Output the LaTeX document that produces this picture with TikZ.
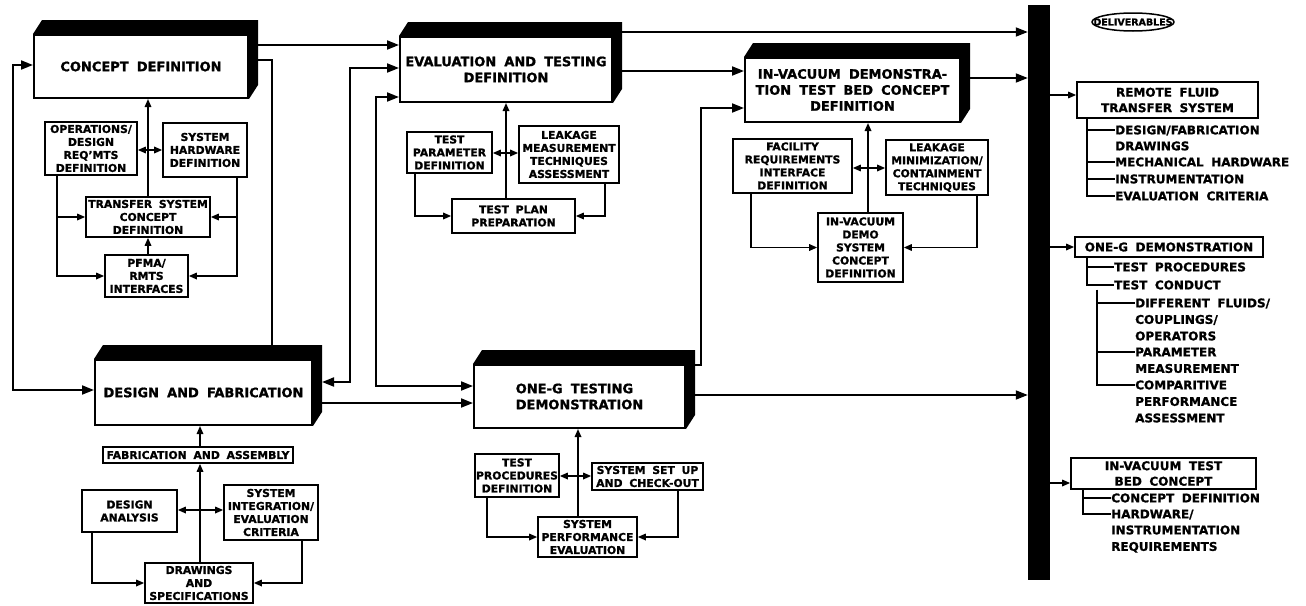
\documentclass[tikz,border=0pt]{standalone}
\usepackage{fontspec}
\setmainfont{DejaVu Sans}[WordSpace=1.8, BoldFeatures={FakeBold=1.2}]
\usetikzlibrary{arrows.meta, calc}

% dark top and right faces of a main block
\newcommand{\extrude}[1]{%
  \fill (#1.north west) -- ++(9,-14) -- ([shift={(9,-14)}]#1.north east)
    -- ([shift={(9,-14)}]#1.south east) -- (#1.south east) -- (#1.north east) -- cycle;}

\begin{document}
\begin{tikzpicture}[x=1pt, y=-1pt,
  block/.style={draw, line width=2pt, fill=white, align=center, inner sep=2pt,
                font=\fontsize{13}{16}\selectfont\bfseries},
  sub/.style={draw, line width=1.6pt, align=center, inner sep=1pt,
              font=\fontsize{10.8}{13}\selectfont\bfseries},
  outbox/.style={draw, line width=1.7pt, align=center, inner sep=1pt,
                 font=\fontsize{12}{15.5}\selectfont\bfseries},
  listitem/.style={anchor=west, inner sep=0pt, text height=8.7pt, text depth=0pt,
                   font=\fontsize{12}{14}\selectfont\bfseries},
  wire/.style={line width=1.7pt},
  arr/.style={-{Stealth[length=12pt,width=9pt,inset=0pt]}, line width=1.8pt},
  darr/.style={{Stealth[length=12pt,width=9pt,inset=0pt]}-{Stealth[length=12pt,width=9pt,inset=0pt]}, line width=1.8pt},
  sarr/.style={-{Stealth[length=8pt,width=6.5pt,inset=0pt]}, line width=1.6pt},
  sdarr/.style={{Stealth[length=8pt,width=6.5pt,inset=0pt]}-{Stealth[length=8pt,width=6.5pt,inset=0pt]}, line width=1.6pt}
]
\useasboundingbox (0,0) rectangle (1306,605);

% Main blocks
\node[block, minimum width=214, minimum height=63] (concept) at (141,66.5) {CONCEPT DEFINITION};
\node[block, minimum width=212, minimum height=65] (evaluation) at (506,69.5) {EVALUATION AND TESTING\\DEFINITION};
\node[block, minimum width=215, minimum height=64] (invac) at (852.5,90) {IN-VACUUM DEMONSTRA-\\TION TEST BED CONCEPT\\DEFINITION};
\node[block, minimum width=217, minimum height=65] (design) at (203.5,392.5) {DESIGN AND FABRICATION};
\node[block, minimum width=211, minimum height=63, align=left] (oneg) at (579.5,396.5) {ONE-G TESTING\\DEMONSTRATION};
\foreach \b in {concept, evaluation, invac, design, oneg} \extrude{\b};

% Concept definition tasks
\node[sub, minimum width=92, minimum height=53] (ops) at (91,148.5) {OPERATIONS/\\DESIGN\\REQ'MTS\\DEFINITION};
\node[sub, minimum width=84, minimum height=54] (hw) at (205,150) {SYSTEM\\HARDWARE\\DEFINITION};
\node[sub, minimum width=124, minimum height=40] (transfer) at (148,217) {TRANSFER SYSTEM\\CONCEPT\\DEFINITION};
\node[sub, minimum width=83, minimum height=42] (pfma) at (146.5,276) {PFMA/\\RMTS\\INTERFACES};
\draw[sarr] (transfer.north) -- (transfer.north |- concept.south);
\draw[sdarr] (ops.east |- 0,150) -- (hw.west |- 0,150);
\draw[sarr] (ops.south -| 57,0) |- (pfma.west);
\draw[sarr] (transfer.west -| 57,0) -- (transfer.west);
\draw[sarr] (hw.south -| 237,0) |- (pfma.east);
\draw[sarr] (transfer.east -| 237,0) -- (transfer.east);
\draw[sarr] (pfma.north -| transfer.south) -- (transfer.south);

% Evaluation and testing tasks
\node[sub, minimum width=85, minimum height=41] (param) at (449.5,152.5) {TEST\\PARAMETER\\DEFINITION};
\node[sub, minimum width=100, minimum height=57] (leak) at (569,154.5) {LEAKAGE\\MEASUREMENT\\TECHNIQUES\\ASSESSMENT};
\node[sub, minimum width=123, minimum height=34] (plan) at (513.5,216) {TEST PLAN\\PREPARATION};
\draw[sarr] (plan.north -| evaluation.south) -- (evaluation.south);
\draw[sdarr] (param.east |- 0,153) -- (leak.west |- 0,153);
\draw[sarr] (param.south -| 415,0) |- (plan.west);
\draw[sarr] (leak.south -| 605,0) |- (plan.east);

% In-vacuum tasks
\node[sub, minimum width=119, minimum height=54] (facility) at (792.5,166) {FACILITY\\REQUIREMENTS\\INTERFACE\\DEFINITION};
\node[sub, minimum width=102, minimum height=55, inner xsep=0pt] (leakmin) at (937,167.5) {LEAKAGE\\MINIMIZATION/\\CONTAINMENT\\TECHNIQUES};
\node[sub, minimum width=85, minimum height=69] (demo) at (860.5,247.5) {IN-VACUUM\\DEMO\\SYSTEM\\CONCEPT\\DEFINITION};
\draw[sarr] (demo.north -| 868,0) -- (invac.south -| 868,0);
\draw[sdarr] (facility.east |- 0,168) -- (leakmin.west |- 0,168);
\draw[sarr] (facility.south -| 751,0) |- (demo.west);
\draw[sarr] (leakmin.south -| 977,0) |- (demo.east);

% Design and fabrication tasks
\node[sub, minimum width=190, minimum height=16] (fab) at (198,455) {FABRICATION AND ASSEMBLY};
\node[sub, minimum width=95, minimum height=42] (analysis) at (129.5,511) {DESIGN\\ANALYSIS};
\node[sub, minimum width=94, minimum height=55] (integ) at (271,512.5) {SYSTEM\\INTEGRATION/\\EVALUATION\\CRITERIA};
\node[sub, minimum width=108, minimum height=40] (drawings) at (199,583) {DRAWINGS\\AND\\SPECIFICATIONS};
\draw[sarr] (fab.north -| 200,0) -- (design.south -| 200,0);
\draw[sarr] (drawings.north -| 200,0) -- (fab.south -| 200,0);
\draw[sdarr] (analysis.east |- 0,510) -- (integ.west |- 0,510);
\draw[sarr] (analysis.south -| 92,0) |- (drawings.west);
\draw[sarr] (integ.south -| 302,0) |- (drawings.east);

% One-g testing tasks
\node[sub, minimum width=84, minimum height=43] (proc) at (517,475.5) {TEST\\PROCEDURES\\DEFINITION};
\node[sub, minimum width=111, minimum height=27] (setup) at (647.5,476.5) {SYSTEM SET UP\\AND CHECK-OUT};
\node[sub, minimum width=99, minimum height=40] (perf) at (587.5,537) {SYSTEM\\PERFORMANCE\\EVALUATION};
\draw[sarr] (perf.north -| 578,0) -- (oneg.south -| 578,0);
\draw[sdarr] (proc.east |- 0,476) -- (setup.west |- 0,476);
\draw[sarr] (proc.south -| 487,0) |- (perf.west);
\draw[sarr] (setup.south -| 678,0) |- (perf.east);

% Links between main blocks
\draw[darr] (concept.west |- 0,65) -| (13,390) -- (design.west |- 0,390);
\draw[wire] (concept.east |- 0,60) -| (design.north -| 272,0);
\draw[arr] (concept.east |- 0,45) -- (evaluation.west |- 0,45);
\draw[darr] ([xshift=9pt]design.east |- 0,382) -| (350,68) -- (evaluation.west |- 0,68);
\draw[darr] (evaluation.west |- 0,97) -| (376,386) -- (oneg.west |- 0,386);
\draw[arr] (design.east |- 0,403) -- (oneg.west |- 0,403);
\draw[arr] (evaluation.east |- 0,71) -- (invac.west |- 0,71);
\draw[arr] ([xshift=9pt]oneg.east |- 0,365) -| (701,108) -- (invac.west |- 0,108);

% Deliverables bar
\node[fill=black, inner sep=0pt, minimum width=22, minimum height=575] (bar) at (1039,292.5) {};
\draw[arr] (evaluation.east |- 0,32) -- (bar.west |- 0,32);
\draw[arr] (invac.east |- 0,78) -- (bar.west |- 0,78);
\draw[arr] (oneg.east |- 0,395) -- (bar.west |- 0,395);

\node[font=\fontsize{9.5}{11}\selectfont\bfseries, inner sep=0pt] (dlv) at (1133,22) {DELIVERABLES};
\draw[line width=1.5pt] (dlv.center) ellipse (41pt and 9pt);

\node[outbox, minimum width=181, minimum height=36] (remote) at (1167.5,100) {REMOTE FLUID\\TRANSFER SYSTEM};
\node[outbox, minimum width=188, minimum height=20] (onegdemo) at (1169,247) {ONE-G DEMONSTRATION};
\node[outbox, minimum width=185, minimum height=31] (invactest) at (1163.5,473.5) {IN-VACUUM TEST\\BED CONCEPT};
\draw[sarr] (bar.east |- 0,95) -- (remote.west |- 0,95);
\draw[sarr] (bar.east |- onegdemo.west) -- (onegdemo.west);
\draw[sarr] (bar.east |- 0,483) -- (invactest.west |- 0,483);

% Remote fluid transfer system list
\foreach \y/\t [count=\i] in {130/{DESIGN/FABRICATION}, 146/DRAWINGS, 162/{MECHANICAL HARDWARE},
    179/INSTRUMENTATION, 196/{EVALUATION CRITERIA}}
  \node[listitem] (rf\i) at (1115,\y) {\t};
\draw[wire] (remote.south -| 1087,0) |- (rf5.west);
\foreach \i in {1,3,4} \draw[wire] (rf\i.west -| 1087,0) -- (rf\i.west);

% One-g demonstration list
\node[listitem] (og1) at (1114,267) {TEST PROCEDURES};
\node[listitem] (og2) at (1114,285) {TEST CONDUCT};
\foreach \y/\t [count=\i from 3] in {303/{DIFFERENT FLUIDS/}, 319.5/{COUPLINGS/}, 336/OPERATORS,
    352/PARAMETER, 368.5/MEASUREMENT, 385/COMPARITIVE, 401.5/PERFORMANCE, 418/ASSESSMENT}
  \node[listitem] (og\i) at (1135,\y) {\t};
\draw[wire] (onegdemo.south -| 1087,0) |- (og2.west);
\draw[wire] (og1.west -| 1087,0) -- (og1.west);
\draw[wire] (og2.south -| 1097,0) |- (og8.west);
\foreach \i in {3,6} \draw[wire] (og\i.west -| 1097,0) -- (og\i.west);

% In-vacuum test bed list
\foreach \y/\t [count=\i] in {498/{CONCEPT DEFINITION}, 514/{HARDWARE/}, 530/INSTRUMENTATION, 546.5/REQUIREMENTS}
  \node[listitem] (iv\i) at (1111,\y) {\t};
\draw[wire] (invactest.south -| 1083,0) |- (iv2.west);
\draw[wire] (iv1.west -| 1083,0) -- (iv1.west);
\end{tikzpicture}
\end{document}
